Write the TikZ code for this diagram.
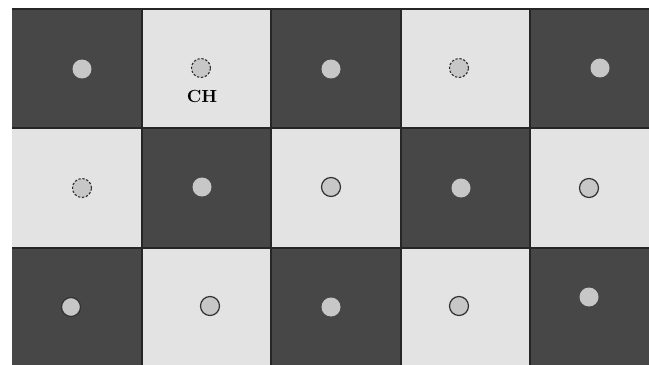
\documentclass[tikz,border=0pt]{standalone}
\begin{document}
\begin{tikzpicture}[x=0.02cm,y=-0.02cm,
  darkcell/.style={fill=black!72},
  lightcell/.style={fill=black!11},
  dotfill/.style={circle,fill=black!22,minimum size=0.38cm,inner sep=0pt},
  dotdash/.style={dotfill,draw=black!85,dashed,dash pattern=on 1.3pt off 1pt,line width=0.6pt},
  dotline/.style={dotfill,draw=black!80,line width=0.7pt},
  gridline/.style={draw=black!85,line width=0.6pt}]
\useasboundingbox (0,0) rectangle (649,365);
\fill[white] (0,0) rectangle (649,365);
% cells
\def\xs{{12,142,271,401,530,649}}
\def\ys{{9,128,248,365}}
\foreach \r in {0,1,2}{
  \foreach \c in {0,...,4}{
    \pgfmathsetmacro{\xa}{\xs[\c]}
    \pgfmathsetmacro{\xb}{\xs[\c+1]}
    \pgfmathsetmacro{\ya}{\ys[\r]}
    \pgfmathsetmacro{\yb}{\ys[\r+1]}
    \pgfmathtruncatemacro{\cellpar}{mod(\r+\c,2)}
    \ifnum\cellpar=0
      \fill[darkcell] (\xa,\ya) rectangle (\xb,\yb);
    \else
      \fill[lightcell] (\xa,\ya) rectangle (\xb,\yb);
    \fi
  }
}
% grid lines
\draw[gridline] (12,9) -- (649,9);
\draw[gridline] (12,128) -- (649,128);
\draw[gridline] (12,248) -- (649,248);
\foreach \x in {142,271,401,530}{\draw[gridline] (\x,9) -- (\x,365);}
% row 1
\node[dotfill] (a1) at (82,69) {};
\node[dotdash] (a2) at (201,68) {};
\node[font=\bfseries] (ch) at (202,96) {CH};
\node[dotfill] (a3) at (331,69) {};
\node[dotdash] (a4) at (459,68) {};
\node[dotfill] (a5) at (600,68) {};
% row 2
\node[dotdash] (b1) at (82,188) {};
\node[dotfill] (b2) at (202,187) {};
\node[dotline] (b3) at (331,187) {};
\node[dotfill] (b4) at (461,188) {};
\node[dotline] (b5) at (589,188) {};
% row 3
\node[dotline] (c1) at (71,307) {};
\node[dotline] (c2) at (210,306) {};
\node[dotfill] (c3) at (331,307) {};
\node[dotline] (c4) at (459,306) {};
\node[dotfill] (c5) at (589,297) {};
\end{tikzpicture}
\end{document}
